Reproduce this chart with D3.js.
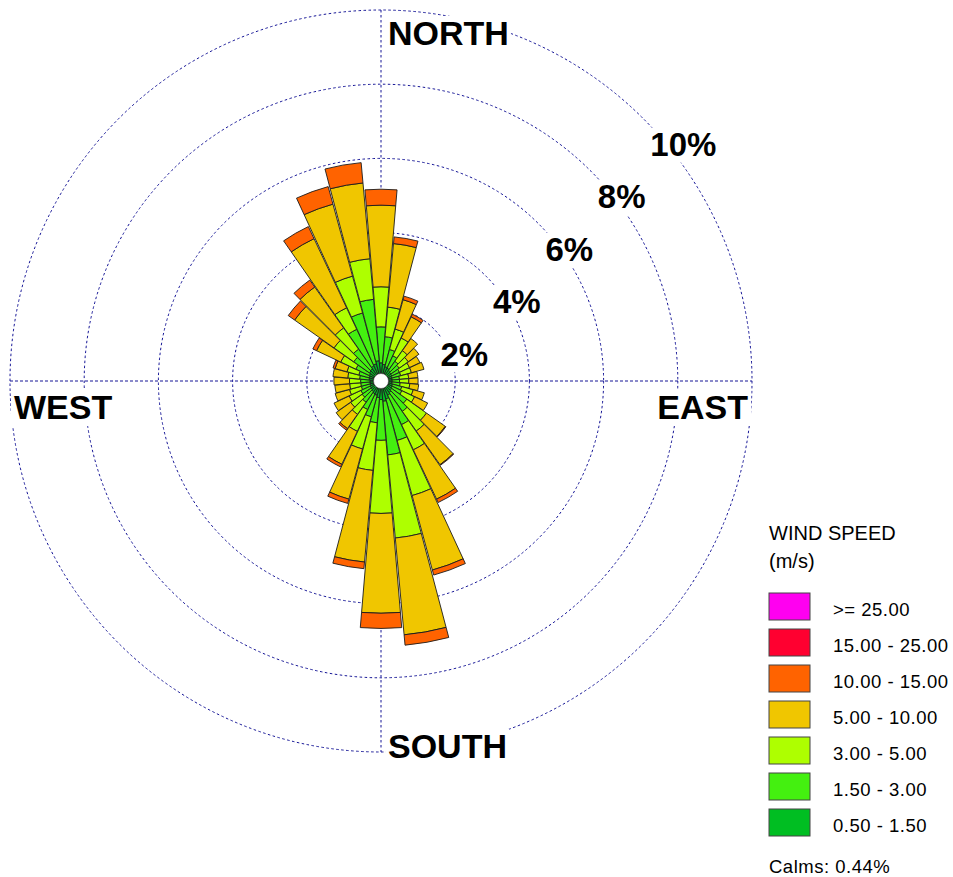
<!DOCTYPE html>
<html>
<head>
<meta charset="utf-8">
<script src="https://cdn.jsdelivr.net/npm/d3@7"></script>
<style>
  html, body { margin: 0; padding: 0; background: #fff; }
  svg { display: block; }
  text { font-family: "Liberation Sans", Arial, sans-serif; }
</style>
</head>
<body>
<svg id="rose" width="953" height="877"></svg>
<script>
// Wind directions (degrees, bar centres)
const directions = [0, 10, 20, 30, 40, 50, 60, 70, 80, 90, 100, 110, 120, 130, 140, 150, 160, 170,
                    180, 190, 200, 210, 220, 230, 240, 250, 260, 270, 280, 290, 300, 310, 320, 330, 340, 350];

// Frequency (%) of each wind speed class per direction
const freq_0_5_1_5 = [0.49, 0.45, 0.40, 0.38, 0.35, 0.33, 0.32, 0.30, 0.30, 0.30, 0.30, 0.32, 0.33, 0.35, 0.38, 0.42, 0.50, 0.55,
                      0.50, 0.45, 0.40, 0.38, 0.35, 0.33, 0.32, 0.30, 0.30, 0.30, 0.32, 0.33, 0.35, 0.38, 0.40, 0.45, 0.48, 0.55];
const freq_1_5_3 =   [0.97, 0.75, 0.48, 0.37, 0.30, 0.27, 0.23, 0.25, 0.20, 0.20, 0.22, 0.26, 0.29, 0.50, 0.62, 0.88, 1.16, 1.45,
                      1.10, 0.68, 0.60, 0.47, 0.35, 0.29, 0.28, 0.25, 0.25, 0.25, 0.26, 0.29, 0.40, 0.52, 0.65, 1.09, 1.42, 1.66];
const freq_3_5 =     [1.08, 0.80, 0.57, 0.53, 0.35, 0.30, 0.30, 0.30, 0.25, 0.25, 0.26, 0.32, 0.38, 0.65, 0.65, 0.75, 1.54, 2.25,
                      1.97, 1.29, 0.90, 0.65, 0.40, 0.38, 0.35, 0.33, 0.30, 0.30, 0.32, 0.33, 0.45, 0.65, 0.70, 0.64, 1.03, 1.10];
const freq_5_10 =    [2.20, 1.72, 0.82, 0.63, 0.40, 0.35, 0.31, 0.35, 0.25, 0.25, 0.24, 0.31, 0.39, 0.62, 1.11, 1.47, 2.08, 2.62,
                      2.69, 2.48, 1.40, 0.98, 0.47, 0.48, 0.45, 0.40, 0.40, 0.42, 0.40, 0.33, 0.72, 1.30, 1.35, 2.06, 2.01, 2.05];
const freq_10_15 =   [0.43, 0.18, 0.10, 0.08, 0.00, 0.00, 0.00, 0.00, 0.00, 0.00, 0.00, 0.00, 0.00, 0.02, 0.02, 0.10, 0.14, 0.28,
                      0.41, 0.18, 0.12, 0.08, 0.05, 0.00, 0.00, 0.00, 0.00, 0.00, 0.00, 0.06, 0.11, 0.21, 0.23, 0.36, 0.49, 0.55];
const freq_15_25 =   [0, 0, 0, 0, 0, 0, 0, 0, 0, 0, 0, 0, 0, 0, 0, 0, 0, 0,
                      0, 0, 0, 0, 0, 0, 0, 0, 0, 0, 0, 0, 0, 0, 0, 0, 0, 0];
const freq_25_up =   [0, 0, 0, 0, 0, 0, 0, 0, 0, 0, 0, 0, 0, 0, 0, 0, 0, 0,
                      0, 0, 0, 0, 0, 0, 0, 0, 0, 0, 0, 0, 0, 0, 0, 0, 0, 0];

// Speed classes, lowest first
const speedKeys   = ["s1", "s2", "s3", "s4", "s5", "s6", "s7"];
const speedLabels = ["0.50 - 1.50", "1.50 - 3.00", "3.00 - 5.00", "5.00 - 10.00", "10.00 - 15.00", "15.00 - 25.00", ">= 25.00"];
const speedColors = ["#00BE22", "#44F010", "#AEFF00", "#F0C600", "#FF6300", "#FF0030", "#FF00F0"];
const speedSeries = [freq_0_5_1_5, freq_1_5_3, freq_3_5, freq_5_10, freq_10_15, freq_15_25, freq_25_up];

// Ring ticks and compass labels
const ringTicks  = [2, 4, 6, 8, 10];
const ringLabels = ["2%", "4%", "6%", "8%", "10%"];
const compassLabels = ["NORTH", "EAST", "SOUTH", "WEST"];
const legendTitle = ["WIND SPEED", "(m/s)"];
const calmsText = "Calms: 0.44%";

const svg = d3.select("#rose");
const cx = 381, cy = 381;
const R = 371, hole = 7.5;
const barWidth = 9.6 * Math.PI / 180;

const r = d3.scaleLinear().domain([0, 10]).range([0, R]);
const color = d3.scaleOrdinal().domain(speedKeys).range(speedColors);

const table = directions.map((d, i) => {
  const row = { dir: d };
  speedKeys.forEach((k, j) => { row[k] = speedSeries[j][i]; });
  return row;
});
const stacked = d3.stack().keys(speedKeys)(table);

svg.append("rect").attr("width", 953).attr("height", 877).attr("fill", "#fff");

const g = svg.append("g").attr("transform", `translate(${cx},${cy})`);
const gridColor = "#141496";

// Range rings
g.append("g").selectAll("circle").data(ringTicks).join("circle")
  .attr("r", d => r(d))
  .attr("fill", "none")
  .attr("stroke", gridColor)
  .attr("stroke-width", 1)
  .attr("stroke-dasharray", "2.5,2.5");

// Cross hairs
g.append("line").attr("x1", -R).attr("x2", R).attr("y1", 0).attr("y2", 0)
  .attr("stroke", gridColor).attr("stroke-dasharray", "3,2");
g.append("line").attr("x1", 0).attr("x2", 0).attr("y1", -R).attr("y2", R)
  .attr("stroke", gridColor).attr("stroke-dasharray", "2.5,2.5");

// Petals
const arc = d3.arc()
  .innerRadius(d => Math.max(hole, r(d[0])))
  .outerRadius(d => Math.max(hole, r(d[1])))
  .startAngle(d => d.data.dir * Math.PI / 180 - barWidth / 2)
  .endAngle(d => d.data.dir * Math.PI / 180 + barWidth / 2);

g.append("g").selectAll("g").data(stacked).join("g")
  .attr("fill", s => color(s.key))
  .selectAll("path")
  .data(s => s.filter(d => d[1] - d[0] > 0))
  .join("path")
  .attr("d", arc)
  .attr("stroke", "#1c1c1c")
  .attr("stroke-width", 0.9)
  .attr("stroke-linejoin", "round");

g.append("circle").attr("r", hole).attr("fill", "#fff").attr("stroke", "#333").attr("stroke-width", 0.5);

// Text with white backing so grid lines don't cross it
function label(parent, x, y, txt, size, anchor, pad) {
  const grp = parent.append("g");
  const bg = grp.append("rect").attr("fill", "#fff");
  const t = grp.append("text")
    .attr("x", x).attr("y", y)
    .attr("text-anchor", anchor)
    .attr("font-size", size)
    .attr("font-weight", "bold")
    .attr("fill", "#000")
    .text(txt);
  const b = t.node().getBBox();
  bg.attr("x", b.x - pad).attr("y", b.y + 2).attr("width", b.width + 2 * pad).attr("height", b.height - 2);
  return grp;
}

// Ring labels along the north-east diagonal
ringTicks.forEach((v, i) => {
  const rr = r(v);
  label(svg, cx + rr * Math.SQRT1_2 + 7, cy - rr * Math.SQRT1_2 + 37, ringLabels[i], 33, "start", 3);
});

// Compass point labels
label(svg, cx + 7, cy - R + 35, compassLabels[0], 34, "start", 2);
label(svg, cx + R - 4, cy + 38, compassLabels[1], 34, "end", 3);
label(svg, cx + 7, cy + R + 6, compassLabels[2], 34, "start", 2);
label(svg, cx - R + 4, cy + 38, compassLabels[3], 34, "start", 3);

// Legend
const lg = svg.append("g").attr("transform", "translate(769,0)");
lg.append("text").attr("x", 0).attr("y", 540).attr("font-size", 20).text(legendTitle[0]);
lg.append("text").attr("x", 0).attr("y", 568).attr("font-size", 20).text(legendTitle[1]);

const legendOrder = speedKeys.slice().reverse();
const items = lg.selectAll("g.item").data(legendOrder).join("g")
  .attr("class", "item")
  .attr("transform", (d, i) => `translate(0,${593 + i * 36})`);
items.append("rect")
  .attr("width", 41).attr("height", 27)
  .attr("fill", d => color(d))
  .attr("stroke", "#444").attr("stroke-width", 1);
items.append("text")
  .attr("x", 64).attr("y", 23)
  .attr("font-size", 18.5)
  .attr("letter-spacing", 0.5)
  .text(d => speedLabels[speedKeys.indexOf(d)]);

lg.append("text").attr("x", 0).attr("y", 873).attr("font-size", 18.5).attr("letter-spacing", 0.5).text(calmsText);
</script>
</body>
</html>
